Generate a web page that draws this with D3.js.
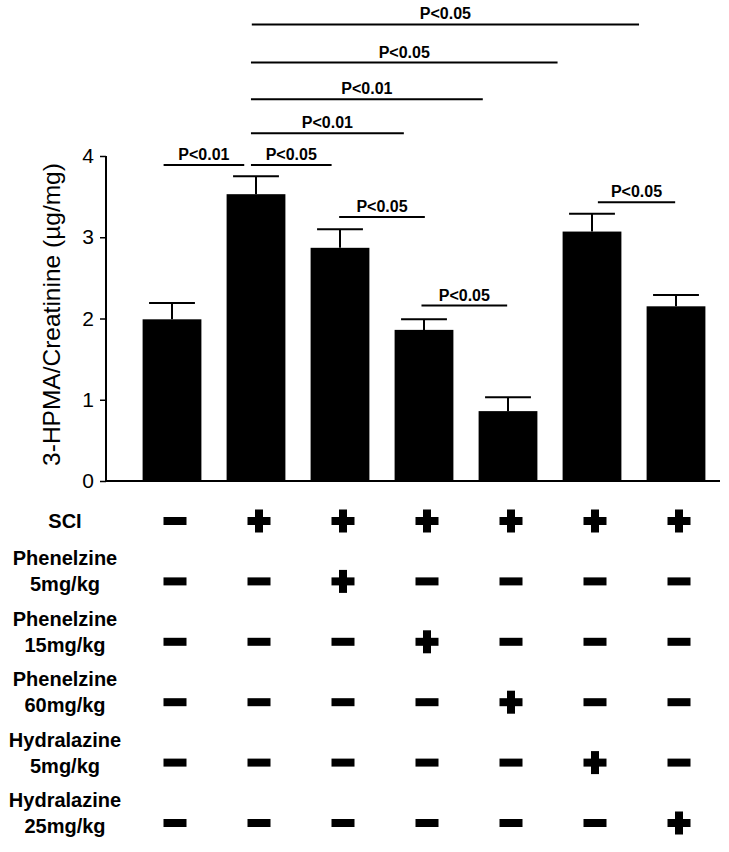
<!DOCTYPE html>
<html>
<head>
<meta charset="utf-8">
<script src="https://cdn.jsdelivr.net/npm/d3@7"></script>
<style>
  body { margin: 0; background: #fff; }
  text { font-family: "Liberation Sans", Arial, sans-serif; }
</style>
</head>
<body>
<div id="chart"></div>
<script>

// bar values (mean and top of error bar)
const groups = ["g1", "g2", "g3", "g4", "g5", "g6", "g7"];
const means = [1.99, 3.53, 2.87, 1.86, 0.86, 3.07, 2.15];
const errTops = [2.19, 3.75, 3.10, 1.99, 1.03, 3.29, 2.29];
const yTicks = [0, 1, 2, 3, 4];

// treatment table below the bars
const rowLabels = [
    ["SCI"],
    ["Phenelzine", "5mg/kg"],
    ["Phenelzine", "15mg/kg"],
    ["Phenelzine", "60mg/kg"],
    ["Hydralazine", "5mg/kg"],
    ["Hydralazine", "25mg/kg"]
];
const treatment = [
    [0, 1, 1, 1, 1, 1, 1],
    [0, 0, 1, 0, 0, 0, 0],
    [0, 0, 0, 1, 0, 0, 0],
    [0, 0, 0, 0, 1, 0, 0],
    [0, 0, 0, 0, 0, 1, 0],
    [0, 0, 0, 0, 0, 0, 1]
];

// significance lines: from / to in group index units, level in y units
const sigFrom = [0.95, 0.94, 0.94, 0.94, -0.10, 0.94, 1.99, 2.97, 5.07];
const sigTo = [5.56, 4.59, 3.70, 2.76, 0.86, 1.90, 3.01, 3.99, 5.99];
const sigLevel = [5.62, 5.15, 4.70, 4.28, 3.89, 3.89, 3.25, 2.16, 3.43];
const sigText = ["P<0.05", "P<0.05", "P<0.01", "P<0.01", "P<0.01", "P<0.05", "P<0.05", "P<0.05", "P<0.05"];

const width = 729, height = 852;

const svg = d3.select("#chart").append("svg")
    .attr("width", width).attr("height", height);

// scales
const xScale = d3.scaleBand()
    .domain(groups)
    .range([130, 718])
    .paddingInner(0.3)
    .paddingOuter(0.15);

// index -> center of band, used for the significance lines
const idxScale = d3.scaleLinear()
    .domain([0, 1])
    .range([xScale(groups[0]) + xScale.bandwidth() / 2, xScale(groups[1]) + xScale.bandwidth() / 2]);

const yScale = d3.scaleLinear()
    .domain([0, 4])
    .range([481, 156]);

// bars
svg.append("g")
    .selectAll("rect")
    .data(means)
    .enter()
    .append("rect")
    .attr("x", (d, i) => xScale(groups[i]))
    .attr("width", xScale.bandwidth())
    .attr("y", d => yScale(d))
    .attr("height", d => yScale(0) - yScale(d))
    .attr("fill", "#000");

// error bars
const capHalf = xScale.bandwidth() * 0.39;
const err = svg.append("g").attr("stroke", "#000").attr("stroke-width", 2);
errTops.forEach((t, i) => {
    const cx = xScale(groups[i]) + xScale.bandwidth() / 2;
    err.append("line")
        .attr("x1", cx).attr("x2", cx)
        .attr("y1", yScale(means[i])).attr("y2", yScale(t));
    err.append("line")
        .attr("x1", cx - capHalf).attr("x2", cx + capHalf)
        .attr("y1", yScale(t)).attr("y2", yScale(t));
});

// y axis
const yAxis = svg.append("g")
    .attr("transform", "translate(106,0)")
    .call(d3.axisLeft(yScale).tickValues(yTicks).tickSize(6).tickPadding(6).tickFormat(d3.format("d")));
yAxis.select(".domain").attr("stroke-width", 2).attr("d", `M0,${yScale(4)}V${yScale(0)}`);
yAxis.selectAll(".tick line").attr("stroke-width", 1.5);
yAxis.selectAll(".tick text")
    .attr("font-size", 21)
    .attr("font-family", "Liberation Sans, Arial, sans-serif")
    .attr("fill", "#000");

// baseline
svg.append("line")
    .attr("x1", 106).attr("x2", 720)
    .attr("y1", yScale(0)).attr("y2", yScale(0))
    .attr("stroke", "#000").attr("stroke-width", 2);

svg.append("text")
    .text("3-HPMA/Creatinine (µg/mg)")
    .attr("transform", `translate(60, ${(yScale(4) + yScale(0)) / 2 - 4}) rotate(-90)`)
    .attr("text-anchor", "middle")
    .attr("font-size", 24.5);

// significance annotations
const sig = svg.append("g");
sigText.forEach((t, i) => {
    const x1 = idxScale(sigFrom[i]), x2 = idxScale(sigTo[i]);
    const y = yScale(sigLevel[i]);
    sig.append("line")
        .attr("x1", x1).attr("x2", x2)
        .attr("y1", y).attr("y2", y)
        .attr("stroke", "#000").attr("stroke-width", 2);
    sig.append("text")
        .text(t)
        .attr("x", (x1 + x2) / 2)
        .attr("y", y - 5)
        .attr("text-anchor", "middle")
        .attr("font-size", 16)
        .attr("font-weight", "bold");
});

// treatment table
const rowY = d3.scaleLinear()
    .domain([0, 5])
    .range([521, 823]);

const table = svg.append("g");
rowLabels.forEach((lines, r) => {
    const cy = rowY(r);
    const lab = table.append("text")
        .attr("text-anchor", "middle")
        .attr("font-size", 20)
        .attr("font-weight", "bold");
    if (lines.length === 1) {
        lab.append("tspan").attr("x", 65).attr("y", cy + 7).text(lines[0]);
    } else {
        lab.append("tspan").attr("x", 65).attr("y", cy - 16).text(lines[0]);
        lab.append("tspan").attr("x", 65).attr("y", cy + 10).text(lines[1]);
    }

    treatment[r].forEach((on, i) => {
        const cx = xScale(groups[i]) + xScale.bandwidth() / 2 + 3;
        // horizontal arm (minus)
        table.append("rect")
            .attr("x", cx - 11.5).attr("y", cy - 4)
            .attr("width", 23).attr("height", 8)
            .attr("fill", "#000");
        if (on) {
            table.append("rect")
                .attr("x", cx - 4).attr("y", cy - 11.5)
                .attr("width", 8).attr("height", 23)
                .attr("fill", "#000");
        }
    });
});

</script>
</body>
</html>
